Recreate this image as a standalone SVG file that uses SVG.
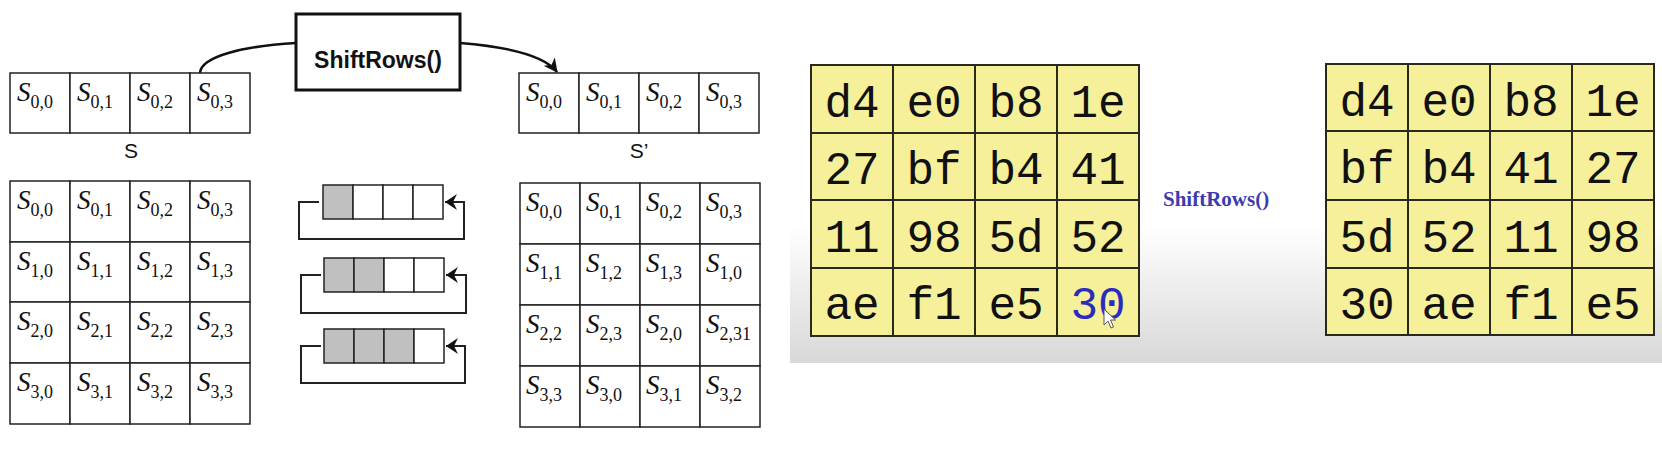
<svg xmlns="http://www.w3.org/2000/svg" width="1662" height="450" viewBox="0 0 1662 450">
<style>
.cell{fill:#fff;stroke:#222;stroke-width:1.5}
.gcell{fill:#c0c0c0;stroke:#222;stroke-width:1.5}
.S{font-family:"Liberation Serif","Times New Roman",serif;font-style:italic;font-size:27px;fill:#111}
.sub{font-style:normal;font-size:18px}
.lbl{font-family:"Liberation Sans",Arial,sans-serif;font-size:21px;fill:#111;text-anchor:middle}
.conn{fill:none;stroke:#111;stroke-width:2.5}
.loop{fill:none;stroke:#222;stroke-width:2}
.ycell{fill:#f6f09a;stroke:#2a2a1a;stroke-width:2}
.hex{font-family:"Liberation Mono","Courier New",monospace;font-size:46px;text-anchor:middle;fill:#111}
</style>
<defs>
<marker id="ah" viewBox="0 0 12 16" refX="12" refY="8" markerWidth="12" markerHeight="16" markerUnits="userSpaceOnUse" orient="auto"><path d="M0,0 L12,8 L0,16 L4,8 Z" fill="#111"/></marker>
<marker id="ah2" viewBox="0 0 14 14" refX="13" refY="7" markerWidth="14" markerHeight="14" markerUnits="userSpaceOnUse" orient="auto"><path d="M0,0 L14,7 L0,14 L4,7 Z" fill="#111"/></marker>
<linearGradient id="bg" x1="0" y1="0" x2="0" y2="1"><stop offset="0" stop-color="#fff"/><stop offset="0.6" stop-color="#fff"/><stop offset="1" stop-color="#d8d8d8"/></linearGradient>
</defs>
<rect width="1662" height="450" fill="#fff"/>

<g id="connectors">
<path class="conn" d="M200,73 C201,56 245,46 296,43"/>
<path class="conn" d="M460,43 C510,47 545,56 557,72" marker-end="url(#ah2)"/>
</g>

<g id="shiftrows-box">
<rect x="296" y="14" width="164" height="76" fill="#fff" stroke="#111" stroke-width="3"/>
<text x="378" y="68" font-family="Liberation Sans,Arial,sans-serif" font-weight="bold" font-size="23" text-anchor="middle" fill="#111">ShiftRows()</text>
</g>

<g id="state-s-row">
<rect class="cell" x="10" y="73" width="60" height="60"/><rect class="cell" x="70" y="73" width="60" height="60"/><rect class="cell" x="130" y="73" width="60" height="60"/><rect class="cell" x="190" y="73" width="60" height="60"/>
<text class="S" x="17" y="101">S<tspan class="sub" dy="7">0,0</tspan></text>
<text class="S" x="77" y="101">S<tspan class="sub" dy="7">0,1</tspan></text>
<text class="S" x="137" y="101">S<tspan class="sub" dy="7">0,2</tspan></text>
<text class="S" x="197" y="101">S<tspan class="sub" dy="7">0,3</tspan></text>
<text class="lbl" x="131" y="158">S</text>
</g>

<g id="state-s-prime-row">
<rect class="cell" x="519" y="73" width="60" height="60"/><rect class="cell" x="579" y="73" width="60" height="60"/><rect class="cell" x="639" y="73" width="60" height="60"/><rect class="cell" x="699" y="73" width="60" height="60"/>
<text class="S" x="526" y="101">S<tspan class="sub" dy="7">0,0</tspan></text>
<text class="S" x="586" y="101">S<tspan class="sub" dy="7">0,1</tspan></text>
<text class="S" x="646" y="101">S<tspan class="sub" dy="7">0,2</tspan></text>
<text class="S" x="706" y="101">S<tspan class="sub" dy="7">0,3</tspan></text>
<text class="lbl" x="639" y="158">S’</text>
</g>

<g id="state-grid-left">
<rect class="cell" x="10" y="181" width="60" height="61"/><rect class="cell" x="70" y="181" width="60" height="61"/><rect class="cell" x="130" y="181" width="60" height="61"/><rect class="cell" x="190" y="181" width="60" height="61"/>
<rect class="cell" x="10" y="242" width="60" height="60"/><rect class="cell" x="70" y="242" width="60" height="60"/><rect class="cell" x="130" y="242" width="60" height="60"/><rect class="cell" x="190" y="242" width="60" height="60"/>
<rect class="cell" x="10" y="302" width="60" height="61"/><rect class="cell" x="70" y="302" width="60" height="61"/><rect class="cell" x="130" y="302" width="60" height="61"/><rect class="cell" x="190" y="302" width="60" height="61"/>
<rect class="cell" x="10" y="363" width="60" height="61"/><rect class="cell" x="70" y="363" width="60" height="61"/><rect class="cell" x="130" y="363" width="60" height="61"/><rect class="cell" x="190" y="363" width="60" height="61"/>
<text class="S" x="17" y="209">S<tspan class="sub" dy="7">0,0</tspan></text>
<text class="S" x="77" y="209">S<tspan class="sub" dy="7">0,1</tspan></text>
<text class="S" x="137" y="209">S<tspan class="sub" dy="7">0,2</tspan></text>
<text class="S" x="197" y="209">S<tspan class="sub" dy="7">0,3</tspan></text>
<text class="S" x="17" y="270">S<tspan class="sub" dy="7">1,0</tspan></text>
<text class="S" x="77" y="270">S<tspan class="sub" dy="7">1,1</tspan></text>
<text class="S" x="137" y="270">S<tspan class="sub" dy="7">1,2</tspan></text>
<text class="S" x="197" y="270">S<tspan class="sub" dy="7">1,3</tspan></text>
<text class="S" x="17" y="330">S<tspan class="sub" dy="7">2,0</tspan></text>
<text class="S" x="77" y="330">S<tspan class="sub" dy="7">2,1</tspan></text>
<text class="S" x="137" y="330">S<tspan class="sub" dy="7">2,2</tspan></text>
<text class="S" x="197" y="330">S<tspan class="sub" dy="7">2,3</tspan></text>
<text class="S" x="17" y="391">S<tspan class="sub" dy="7">3,0</tspan></text>
<text class="S" x="77" y="391">S<tspan class="sub" dy="7">3,1</tspan></text>
<text class="S" x="137" y="391">S<tspan class="sub" dy="7">3,2</tspan></text>
<text class="S" x="197" y="391">S<tspan class="sub" dy="7">3,3</tspan></text>
</g>

<g id="shift-illustration">
<g id="shift-row1">
<rect class="gcell" x="323" y="185" width="30" height="34"/><rect class="cell" x="353" y="185" width="30" height="34"/><rect class="cell" x="383" y="185" width="30" height="34"/><rect class="cell" x="413" y="185" width="30" height="34"/>
<path class="loop" d="M319,202 H299 V239 H464 V202 H445" marker-end="url(#ah)"/>
</g>
<g id="shift-row2">
<rect class="gcell" x="324" y="258" width="30" height="34"/><rect class="gcell" x="354" y="258" width="30" height="34"/><rect class="cell" x="384" y="258" width="30" height="34"/><rect class="cell" x="414" y="258" width="30" height="34"/>
<path class="loop" d="M321,275 H301 V313 H466 V275 H446" marker-end="url(#ah)"/>
</g>
<g id="shift-row3">
<rect class="gcell" x="324" y="329" width="30" height="34"/><rect class="gcell" x="354" y="329" width="30" height="34"/><rect class="gcell" x="384" y="329" width="30" height="34"/><rect class="cell" x="414" y="329" width="30" height="34"/>
<path class="loop" d="M321,346 H301 V383 H465 V346 H446" marker-end="url(#ah)"/>
</g>
</g>

<g id="state-grid-right">
<rect class="cell" x="520" y="183" width="60" height="61"/><rect class="cell" x="580" y="183" width="60" height="61"/><rect class="cell" x="640" y="183" width="60" height="61"/><rect class="cell" x="700" y="183" width="60" height="61"/>
<rect class="cell" x="520" y="244" width="60" height="61"/><rect class="cell" x="580" y="244" width="60" height="61"/><rect class="cell" x="640" y="244" width="60" height="61"/><rect class="cell" x="700" y="244" width="60" height="61"/>
<rect class="cell" x="520" y="305" width="60" height="61"/><rect class="cell" x="580" y="305" width="60" height="61"/><rect class="cell" x="640" y="305" width="60" height="61"/><rect class="cell" x="700" y="305" width="60" height="61"/>
<rect class="cell" x="520" y="366" width="60" height="61"/><rect class="cell" x="580" y="366" width="60" height="61"/><rect class="cell" x="640" y="366" width="60" height="61"/><rect class="cell" x="700" y="366" width="60" height="61"/>
<text class="S" x="526" y="211">S<tspan class="sub" dy="7">0,0</tspan></text>
<text class="S" x="586" y="211">S<tspan class="sub" dy="7">0,1</tspan></text>
<text class="S" x="646" y="211">S<tspan class="sub" dy="7">0,2</tspan></text>
<text class="S" x="706" y="211">S<tspan class="sub" dy="7">0,3</tspan></text>
<text class="S" x="526" y="272">S<tspan class="sub" dy="7">1,1</tspan></text>
<text class="S" x="586" y="272">S<tspan class="sub" dy="7">1,2</tspan></text>
<text class="S" x="646" y="272">S<tspan class="sub" dy="7">1,3</tspan></text>
<text class="S" x="706" y="272">S<tspan class="sub" dy="7">1,0</tspan></text>
<text class="S" x="526" y="333">S<tspan class="sub" dy="7">2,2</tspan></text>
<text class="S" x="586" y="333">S<tspan class="sub" dy="7">2,3</tspan></text>
<text class="S" x="646" y="333">S<tspan class="sub" dy="7">2,0</tspan></text>
<text class="S" x="706" y="333">S<tspan class="sub" dy="7">2,31</tspan></text>
<text class="S" x="526" y="394">S<tspan class="sub" dy="7">3,3</tspan></text>
<text class="S" x="586" y="394">S<tspan class="sub" dy="7">3,0</tspan></text>
<text class="S" x="646" y="394">S<tspan class="sub" dy="7">3,1</tspan></text>
<text class="S" x="706" y="394">S<tspan class="sub" dy="7">3,2</tspan></text>
</g>

<rect id="example-panel" x="790" y="20" width="872" height="343" fill="url(#bg)"/>

<g id="hex-before">
<rect class="ycell" x="811" y="65" width="82" height="68"/><rect class="ycell" x="893" y="65" width="82" height="68"/><rect class="ycell" x="975" y="65" width="82" height="68"/><rect class="ycell" x="1057" y="65" width="82" height="68"/>
<rect class="ycell" x="811" y="133" width="82" height="67"/><rect class="ycell" x="893" y="133" width="82" height="67"/><rect class="ycell" x="975" y="133" width="82" height="67"/><rect class="ycell" x="1057" y="133" width="82" height="67"/>
<rect class="ycell" x="811" y="200" width="82" height="68"/><rect class="ycell" x="893" y="200" width="82" height="68"/><rect class="ycell" x="975" y="200" width="82" height="68"/><rect class="ycell" x="1057" y="200" width="82" height="68"/>
<rect class="ycell" x="811" y="268" width="82" height="68"/><rect class="ycell" x="893" y="268" width="82" height="68"/><rect class="ycell" x="975" y="268" width="82" height="68"/><rect class="ycell" x="1057" y="268" width="82" height="68"/>
<text class="hex" x="852" y="117">d4</text><text class="hex" x="934" y="117">e0</text><text class="hex" x="1016" y="117">b8</text><text class="hex" x="1098" y="117">1e</text>
<text class="hex" x="852" y="184">27</text><text class="hex" x="934" y="184">bf</text><text class="hex" x="1016" y="184">b4</text><text class="hex" x="1098" y="184">41</text>
<text class="hex" x="852" y="252">11</text><text class="hex" x="934" y="252">98</text><text class="hex" x="1016" y="252">5d</text><text class="hex" x="1098" y="252">52</text>
<text class="hex" x="852" y="319">ae</text><text class="hex" x="934" y="319">f1</text><text class="hex" x="1016" y="319">e5</text><text class="hex" x="1098" y="319" style="fill:#2b2bbf">30</text>
<path d="M1104,309 L1104,325 L1108,321 L1111,328 L1113.5,327 L1110.5,320 L1115.5,320 Z" fill="#fff" stroke="#555" stroke-width="1"/>
</g>

<text id="shiftrows-label" x="1163" y="206" font-family="Liberation Serif,Times New Roman,serif" font-weight="bold" font-size="21" fill="#3c3cb0">ShiftRows()</text>

<g id="hex-after">
<rect class="ycell" x="1326" y="64" width="82" height="67"/><rect class="ycell" x="1408" y="64" width="82" height="67"/><rect class="ycell" x="1490" y="64" width="82" height="67"/><rect class="ycell" x="1572" y="64" width="82" height="67"/>
<rect class="ycell" x="1326" y="131" width="82" height="69"/><rect class="ycell" x="1408" y="131" width="82" height="69"/><rect class="ycell" x="1490" y="131" width="82" height="69"/><rect class="ycell" x="1572" y="131" width="82" height="69"/>
<rect class="ycell" x="1326" y="200" width="82" height="68"/><rect class="ycell" x="1408" y="200" width="82" height="68"/><rect class="ycell" x="1490" y="200" width="82" height="68"/><rect class="ycell" x="1572" y="200" width="82" height="68"/>
<rect class="ycell" x="1326" y="268" width="82" height="67"/><rect class="ycell" x="1408" y="268" width="82" height="67"/><rect class="ycell" x="1490" y="268" width="82" height="67"/><rect class="ycell" x="1572" y="268" width="82" height="67"/>
<text class="hex" x="1367" y="116">d4</text><text class="hex" x="1449" y="116">e0</text><text class="hex" x="1531" y="116">b8</text><text class="hex" x="1613" y="116">1e</text>
<text class="hex" x="1367" y="183">bf</text><text class="hex" x="1449" y="183">b4</text><text class="hex" x="1531" y="183">41</text><text class="hex" x="1613" y="183">27</text>
<text class="hex" x="1367" y="252">5d</text><text class="hex" x="1449" y="252">52</text><text class="hex" x="1531" y="252">11</text><text class="hex" x="1613" y="252">98</text>
<text class="hex" x="1367" y="319">30</text><text class="hex" x="1449" y="319">ae</text><text class="hex" x="1531" y="319">f1</text><text class="hex" x="1613" y="319">e5</text>
</g>
</svg>
